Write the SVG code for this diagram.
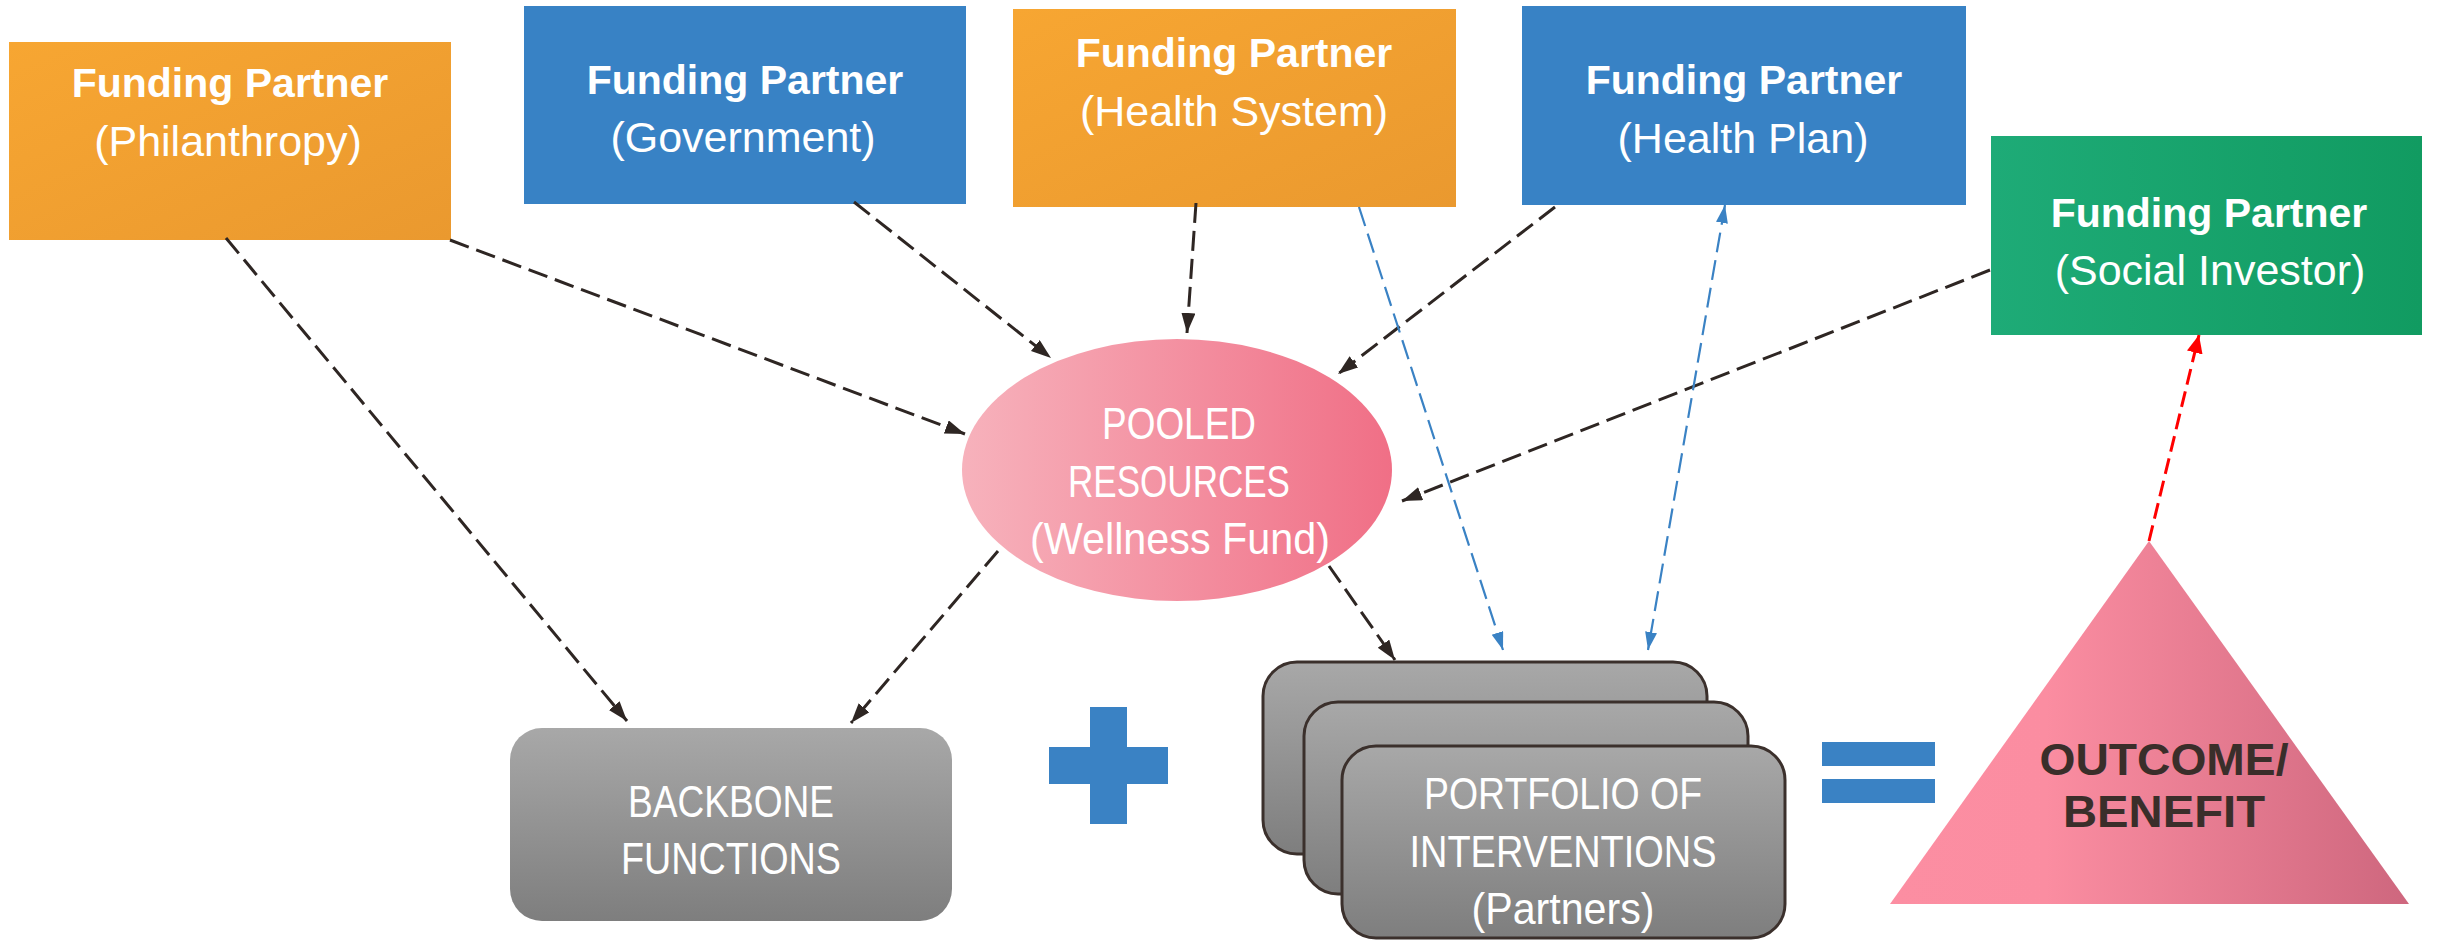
<svg xmlns="http://www.w3.org/2000/svg" width="2438" height="940" viewBox="0 0 2438 940">
  <defs>
    <linearGradient id="gOrange" x1="0" y1="0" x2="1" y2="1">
      <stop offset="0" stop-color="#F7A632"/>
      <stop offset="1" stop-color="#EA992F"/>
    </linearGradient>
    <linearGradient id="gGreen" x1="0" y1="0" x2="1" y2="0">
      <stop offset="0" stop-color="#1EAB77"/>
      <stop offset="1" stop-color="#119B61"/>
    </linearGradient>
    <linearGradient id="gPink" x1="0" y1="0" x2="1" y2="0">
      <stop offset="0" stop-color="#F7B2BC"/>
      <stop offset="1" stop-color="#F06F86"/>
    </linearGradient>
    <linearGradient id="gTri" x1="0" y1="0" x2="1" y2="0">
      <stop offset="0" stop-color="#FC8EA2"/>
      <stop offset="0.3" stop-color="#FB8DA1"/>
      <stop offset="1" stop-color="#CE677E"/>
    </linearGradient>
    <linearGradient id="gGray" x1="0" y1="0" x2="0" y2="1">
      <stop offset="0" stop-color="#A8A8A8"/>
      <stop offset="1" stop-color="#7E7E7E"/>
    </linearGradient>
    <marker id="arDark" markerUnits="userSpaceOnUse" markerWidth="22" markerHeight="16" refX="20" refY="7" orient="auto">
      <path d="M0,0 L20,7 L0,14 z" fill="#2E2623"/>
    </marker>
    <marker id="arBlue" markerUnits="userSpaceOnUse" markerWidth="20" markerHeight="14" refX="18" refY="6" orient="auto-start-reverse">
      <path d="M0,0 L18,6 L0,12 z" fill="#3A82C4"/>
    </marker>
    <marker id="arRed" markerUnits="userSpaceOnUse" markerWidth="20" markerHeight="18" refX="18" refY="8" orient="auto">
      <path d="M0,0 L18,8 L0,16 z" fill="#FF0000"/>
    </marker>
  </defs>
  <style>
    .title { font-family: "Liberation Sans", Arial, sans-serif; font-weight: bold; font-size: 41px; fill: #FFFFFF; text-anchor: middle; }
    .sub { font-family: "Liberation Sans", Arial, sans-serif; font-size: 43px; fill: #FFFFFF; text-anchor: middle; }
    .lbl { font-family: "Liberation Sans", Arial, sans-serif; font-size: 44px; fill: #FFFFFF; text-anchor: middle; }
    .outcome { font-family: "Liberation Sans", Arial, sans-serif; font-weight: bold; font-size: 44px; fill: #3A2E2A; text-anchor: middle; }
    .op { fill: #3A82C4; }
    .card { fill: url(#gGray); stroke: #3B302C; stroke-width: 3; }
    .dark { fill: none; stroke: #2E2623; stroke-width: 3; stroke-dasharray: 20 8; marker-end: url(#arDark); }
    .blue { fill: none; stroke: #3A82C4; stroke-width: 2.2; stroke-dasharray: 20 8; marker-end: url(#arBlue); }
    .red { fill: none; stroke: #FF0000; stroke-width: 3; stroke-dasharray: 16 7; marker-end: url(#arRed); }
  </style>

  <!-- Funding partners -->
  <g id="fp-philanthropy">
    <rect x="9" y="42" width="442" height="198" fill="url(#gOrange)"/>
    <text class="title" x="230" y="97">Funding Partner</text>
    <text class="sub" x="228" y="156">(Philanthropy)</text>
  </g>
  <g id="fp-government">
    <rect x="524" y="6" width="442" height="198" fill="#3882C5"/>
    <text class="title" x="745" y="94">Funding Partner</text>
    <text class="sub" x="743" y="152">(Government)</text>
  </g>
  <g id="fp-health-system">
    <rect x="1013" y="9" width="443" height="198" fill="url(#gOrange)"/>
    <text class="title" x="1234" y="67">Funding Partner</text>
    <text class="sub" x="1234" y="126">(Health System)</text>
  </g>
  <g id="fp-health-plan">
    <rect x="1522" y="6" width="444" height="199" fill="#3882C5"/>
    <text class="title" x="1744" y="94">Funding Partner</text>
    <text class="sub" x="1743" y="153">(Health Plan)</text>
  </g>
  <g id="fp-social-investor">
    <rect x="1991" y="136" width="431" height="199" fill="url(#gGreen)"/>
    <text class="title" x="2209" y="227">Funding Partner</text>
    <text class="sub" x="2210" y="285">(Social Investor)</text>
  </g>

  <!-- Pooled resources -->
  <g id="pooled">
    <ellipse cx="1177" cy="470" rx="215" ry="131" fill="url(#gPink)"/>
    <text class="lbl" x="1179" y="439" textLength="154" lengthAdjust="spacingAndGlyphs">POOLED</text>
    <text class="lbl" x="1179" y="497" textLength="222" lengthAdjust="spacingAndGlyphs">RESOURCES</text>
    <text class="lbl" x="1180" y="554" textLength="300" lengthAdjust="spacingAndGlyphs">(Wellness Fund)</text>
  </g>

  <!-- Backbone functions -->
  <g id="backbone">
    <rect x="510" y="728" width="442" height="193" rx="32" ry="32" fill="url(#gGray)"/>
    <text class="lbl" x="731" y="817" textLength="206" lengthAdjust="spacingAndGlyphs">BACKBONE</text>
    <text class="lbl" x="731" y="874" textLength="220" lengthAdjust="spacingAndGlyphs">FUNCTIONS</text>
  </g>

  <!-- Plus sign -->
  <g id="plus">
    <rect class="op" x="1090" y="707" width="37" height="117"/>
    <rect class="op" x="1049" y="747" width="119" height="37"/>
  </g>

  <!-- Portfolio of interventions (stacked cards) -->
  <g id="portfolio">
    <rect class="card" x="1263" y="662" width="444" height="192" rx="34" ry="34"/>
    <rect class="card" x="1304" y="702" width="444" height="192" rx="34" ry="34"/>
    <rect class="card" x="1342" y="746" width="443" height="192" rx="34" ry="34"/>
    <text class="lbl" x="1563" y="809" textLength="278" lengthAdjust="spacingAndGlyphs">PORTFOLIO OF</text>
    <text class="lbl" x="1563" y="867" textLength="307" lengthAdjust="spacingAndGlyphs">INTERVENTIONS</text>
    <text class="lbl" x="1563" y="924" textLength="183" lengthAdjust="spacingAndGlyphs">(Partners)</text>
  </g>

  <!-- Equals sign -->
  <g id="equals">
    <rect class="op" x="1822" y="742" width="113" height="24"/>
    <rect class="op" x="1822" y="779" width="113" height="24"/>
  </g>

  <!-- Outcome / benefit -->
  <g id="outcome">
    <polygon points="2149,541 2409,904 1890,904" fill="url(#gTri)"/>
    <text class="outcome" x="2164" y="775" textLength="249" lengthAdjust="spacingAndGlyphs">OUTCOME/</text>
    <text class="outcome" x="2164" y="827" textLength="202" lengthAdjust="spacingAndGlyphs">BENEFIT</text>
  </g>

  <!-- Connectors -->
  <g id="connectors">
    <line class="dark" x1="226" y1="238" x2="627" y2="721"/>
    <line class="dark" x1="450" y1="240" x2="965" y2="434"/>
    <line class="dark" x1="854" y1="202" x2="1051" y2="358"/>
    <line class="dark" x1="1196" y1="203" x2="1187" y2="333"/>
    <line class="dark" x1="1555" y1="207" x2="1338" y2="374"/>
    <line class="dark" x1="1990" y1="270" x2="1402" y2="501"/>
    <line class="dark" x1="998" y1="551" x2="851" y2="723"/>
    <line class="dark" x1="1329" y1="566" x2="1395" y2="660"/>
    <line class="blue" x1="1359" y1="207" x2="1503" y2="650"/>
    <line class="blue" x1="1725" y1="205" x2="1648" y2="650" marker-start="url(#arBlue)"/>
    <line class="red" x1="2149" y1="541" x2="2199" y2="335"/>
  </g>
</svg>
